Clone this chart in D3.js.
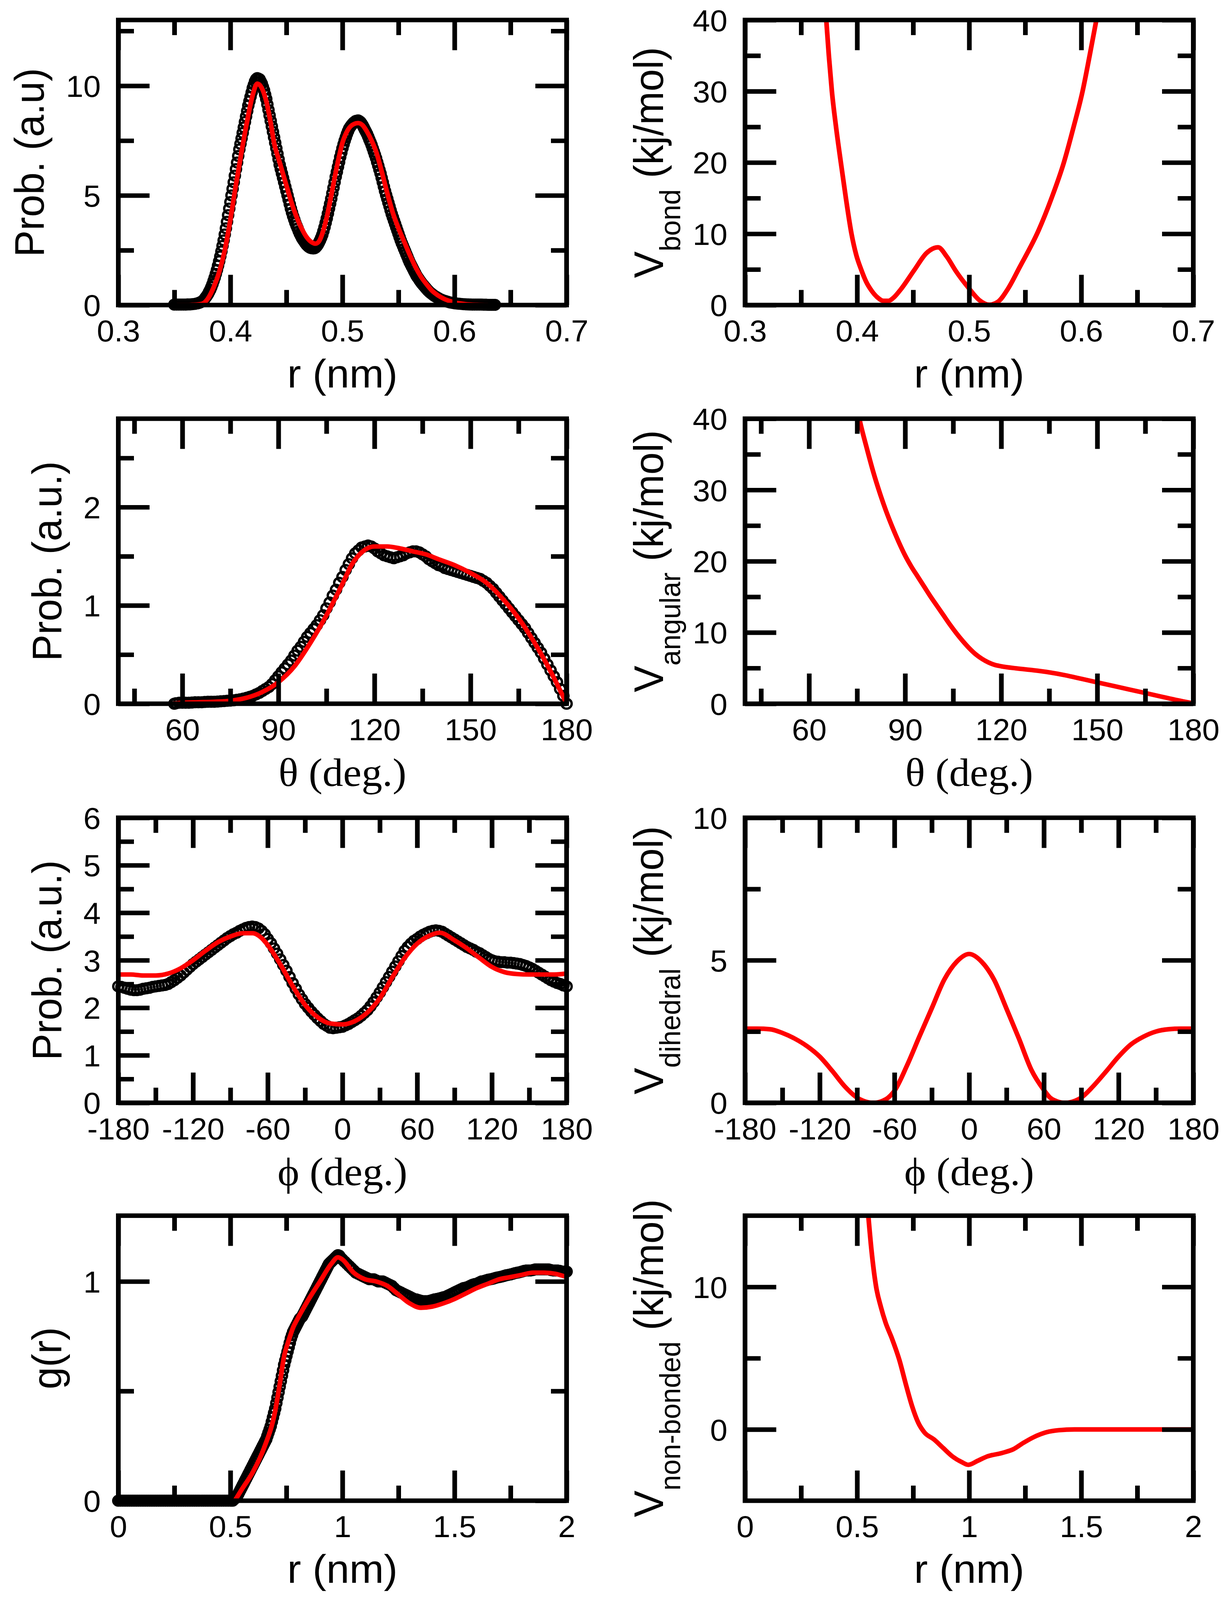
<!DOCTYPE html>
<html lang="en">
<head>
<meta charset="UTF-8">
<title>Bonded and non-bonded distributions and potentials</title>
<script src="https://d3js.org/d3.v7.min.js"></script>
<style>
  html, body { margin: 0; padding: 0; background: #fff; overflow: hidden; }
  svg { display: block; }
</style>
</head>
<body>
<svg id="chart"></svg>
<script>
// ---- data ----

// bond length distribution: simulation (circles) and fit (red line)
const bondProbPoints = [
  [0.350,0.02],[0.352,0.02],[0.354,0.02],[0.356,0.02],[0.358,0.02],[0.360,0.02],[0.362,0.03],[0.364,0.03],[0.366,0.04],[0.368,0.05],
  [0.370,0.07],[0.371,0.08],[0.372,0.10],[0.373,0.12],[0.374,0.15],[0.375,0.18],[0.376,0.22],[0.377,0.28],[0.378,0.35],[0.379,0.42],
  [0.380,0.50],[0.381,0.60],[0.382,0.70],[0.383,0.82],[0.384,0.95],[0.385,1.10],[0.386,1.25],[0.387,1.42],[0.388,1.60],[0.389,1.80],
  [0.390,2.00],[0.391,2.22],[0.392,2.45],[0.393,2.70],[0.394,2.95],[0.395,3.22],[0.396,3.50],[0.397,3.80],[0.398,4.10],[0.399,4.40],
  [0.400,4.70],[0.401,5.00],[0.402,5.30],[0.403,5.60],[0.404,5.90],[0.405,6.20],[0.406,6.50],[0.407,6.80],[0.408,7.10],[0.409,7.35],
  [0.410,7.60],[0.411,7.85],[0.412,8.10],[0.413,8.35],[0.414,8.60],[0.415,8.85],[0.416,9.10],[0.417,9.30],[0.418,9.50],[0.419,9.70],
  [0.420,9.90],[0.421,10.05],[0.422,10.20],[0.423,10.30],[0.424,10.35],[0.425,10.33],[0.426,10.30],[0.427,10.20],[0.428,10.10],[0.429,9.95],
  [0.430,9.80],[0.431,9.60],[0.432,9.40],[0.433,9.15],[0.434,8.90],[0.435,8.65],[0.436,8.40],[0.437,8.15],[0.438,7.90],[0.439,7.65],
  [0.440,7.40],[0.441,7.15],[0.442,6.90],[0.443,6.65],[0.444,6.40],[0.445,6.20],[0.446,6.00],[0.447,5.80],[0.448,5.60],[0.449,5.40],
  [0.450,5.20],[0.451,5.00],[0.452,4.80],[0.453,4.60],[0.454,4.40],[0.455,4.22],[0.456,4.05],[0.457,3.90],[0.458,3.75],[0.459,3.62],
  [0.460,3.50],[0.461,3.37],[0.462,3.25],[0.463,3.15],[0.464,3.05],[0.465,2.97],[0.466,2.90],[0.467,2.82],[0.468,2.75],[0.469,2.70],
  [0.470,2.65],[0.471,2.62],[0.472,2.60],[0.473,2.59],[0.474,2.58],[0.475,2.59],[0.476,2.62],[0.477,2.68],[0.478,2.75],[0.479,2.85],
  [0.480,2.95],[0.481,3.07],[0.482,3.20],[0.483,3.37],[0.484,3.55],[0.485,3.75],[0.486,3.95],[0.487,4.17],[0.488,4.40],[0.489,4.62],
  [0.490,4.85],[0.491,5.10],[0.492,5.35],[0.493,5.60],[0.494,5.85],[0.495,6.07],[0.496,6.30],[0.497,6.52],[0.498,6.75],[0.499,6.95],
  [0.500,7.15],[0.501,7.33],[0.502,7.50],[0.503,7.65],[0.504,7.80],[0.505,7.93],[0.506,8.05],[0.507,8.13],[0.508,8.20],[0.509,8.26],
  [0.510,8.32],[0.511,8.36],[0.512,8.40],[0.513,8.41],[0.514,8.42],[0.515,8.39],[0.516,8.35],[0.517,8.28],[0.518,8.20],[0.519,8.10],
  [0.520,8.00],[0.521,7.90],[0.522,7.80],[0.523,7.68],[0.524,7.55],[0.525,7.43],[0.526,7.30],[0.527,7.15],[0.528,7.00],[0.529,6.85],
  [0.530,6.70],[0.531,6.52],[0.532,6.35],[0.533,6.17],[0.534,6.00],[0.535,5.80],[0.536,5.60],[0.537,5.40],[0.538,5.20],[0.539,5.02],
  [0.540,4.85],[0.541,4.67],[0.542,4.50],[0.543,4.32],[0.544,4.15],[0.545,4.00],[0.546,3.85],[0.547,3.70],[0.548,3.55],[0.549,3.40],
  [0.550,3.25],[0.551,3.10],[0.552,2.95],[0.553,2.82],[0.554,2.70],[0.555,2.57],[0.556,2.45],[0.557,2.32],[0.558,2.20],[0.559,2.07],
  [0.560,1.95],[0.561,1.85],[0.562,1.75],[0.563,1.65],[0.564,1.55],[0.565,1.45],[0.566,1.35],[0.567,1.27],[0.568,1.20],[0.569,1.12],
  [0.570,1.05],[0.571,0.98],[0.572,0.92],[0.573,0.86],[0.574,0.80],[0.575,0.74],[0.576,0.68],[0.577,0.63],[0.578,0.58],[0.579,0.54],
  [0.580,0.50],[0.581,0.46],[0.582,0.42],[0.583,0.39],[0.584,0.36],[0.585,0.33],[0.586,0.30],[0.587,0.27],[0.588,0.25],[0.589,0.23],
  [0.590,0.21],[0.592,0.18],[0.594,0.15],[0.596,0.12],[0.598,0.10],[0.600,0.08],[0.602,0.07],[0.604,0.06],[0.606,0.05],[0.608,0.04],
  [0.610,0.035],[0.612,0.03],[0.614,0.025],[0.616,0.02],[0.618,0.02],[0.620,0.02],[0.622,0.02],[0.624,0.02],[0.626,0.015],[0.628,0.015],
  [0.630,0.01],[0.632,0.01],[0.634,0.01],[0.636,0.01]
];
const bondProbFit = [
  [0.352,0],[0.360,0],[0.366,0.01],[0.370,0.02],[0.375,0.06],[0.380,0.3],[0.385,0.8],[0.390,1.5],
  [0.395,2.5],[0.400,3.9],[0.405,5.5],[0.410,7.0],[0.415,8.4],[0.420,9.6],[0.424,10.1],[0.428,9.9],
  [0.432,9.3],[0.436,8.3],[0.439,7.4],[0.444,6.5],[0.448,5.8],[0.452,5.1],[0.455,4.6],[0.460,3.9],
  [0.464,3.45],[0.468,3.1],[0.473,2.85],[0.476,2.8],[0.479,2.9],[0.482,3.25],[0.486,4.0],[0.490,5.0],
  [0.495,6.3],[0.500,7.4],[0.505,8.0],[0.510,8.25],[0.514,8.3],[0.518,8.2],[0.522,7.9],[0.526,7.5],
  [0.530,7.0],[0.535,6.1],[0.540,5.1],[0.545,4.2],[0.550,3.5],[0.555,2.9],[0.560,2.3],[0.565,1.75],
  [0.570,1.3],[0.575,0.95],[0.580,0.65],[0.585,0.45],[0.590,0.3],[0.600,0.12],[0.610,0.04],[0.620,0.01],
  [0.630,0]
];
// bond potential
const bondPotential = [
  [0.3725,40],[0.3748,35],[0.3775,30],[0.3812,25],[0.3855,20],[0.3900,15],[0.3950,10],[0.3993,7],
  [0.4036,5],[0.408,3.3],[0.413,2.0],[0.418,1.1],[0.4235,0.6],[0.428,0.6],[0.433,1.1],[0.439,2.2],
  [0.451,4.9],[0.462,7.3],[0.4723,8.1],[0.480,6.8],[0.488,4.8],[0.500,2.3],[0.509,0.7],[0.518,0.05],
  [0.526,0.5],[0.5347,2.3],[0.545,5.3],[0.562,10.5],[0.5735,15],[0.5845,20],[0.5932,25],[0.6012,30],
  [0.6075,35],[0.6135,40]
];

// angle distribution
const angleProbPoints = [
  [57.5,0],[58,0.005],[59,0.01],[60,0.01],[61,0.01],[62,0.01],[63,0.012],[64,0.015],[65,0.015],[66,0.015],
  [67,0.018],[68,0.02],[69,0.02],[70,0.02],[71,0.022],[72,0.025],[73,0.027],[74,0.03],[75,0.032],[76,0.035],
  [77,0.04],[78,0.045],[79,0.052],[80,0.06],[81,0.07],[82,0.08],[83,0.095],[84,0.11],[85,0.13],[86,0.15],
  [87,0.17],[88,0.2],[89,0.24],[90,0.28],[91,0.32],[92,0.36],[93,0.4],[94,0.44],[95,0.49],[96,0.54],
  [97,0.58],[98,0.63],[99,0.68],[100,0.72],[101,0.76],[102,0.8],[103,0.85],[104,0.9],[105,0.97],[106,1.03],
  [107,1.1],[108,1.16],[109,1.23],[110,1.29],[111,1.36],[112,1.42],[113,1.48],[114,1.53],[115,1.56],[116,1.59],
  [117,1.6],[118,1.61],[119,1.6],[120,1.58],[121,1.55],[122,1.53],[123,1.51],[124,1.5],[125,1.49],[126,1.48],
  [127,1.49],[128,1.5],[129,1.51],[130,1.53],[131,1.54],[132,1.55],[133,1.55],[134,1.54],[135,1.52],[136,1.5],
  [137,1.47],[138,1.45],[139,1.43],[140,1.41],[141,1.4],[142,1.38],[143,1.37],[144,1.36],[145,1.35],[146,1.34],
  [147,1.33],[148,1.32],[149,1.31],[150,1.3],[151,1.29],[152,1.28],[153,1.27],[154,1.25],[155,1.23],[156,1.2],
  [157,1.17],[158,1.13],[159,1.09],[160,1.05],[161,1.01],[162,0.97],[163,0.93],[164,0.89],[165,0.85],[166,0.81],
  [167,0.77],[168,0.72],[169,0.67],[170,0.62],[171,0.57],[172,0.52],[173,0.46],[174,0.4],[175,0.34],[176,0.28],
  [177,0.22],[178,0.15],[179,0.08],[180,0]
];
const angleProbFit = [
  [57,0],[60,0.01],[65,0.015],[70,0.02],[75,0.03],[80,0.06],[85,0.12],[90,0.22],[95,0.38],[100,0.62],
  [105,0.9],[110,1.22],[113,1.42],[116,1.54],[120,1.6],[124,1.6],[128,1.58],[132,1.55],[136,1.52],[140,1.47],
  [145,1.41],[150,1.33],[155,1.23],[160,1.07],[165,0.87],[170,0.62],[175,0.33],[180,0]
];
// angle potential
const anglePotential = [
  [75.7,40],[76,39.4],[78,35.9],[80,32.6],[82,29.7],[84,27.1],[86,24.8],[88,22.7],[90,20.8],[92,19.2],
  [94,17.8],[96,16.4],[98,15.0],[100,13.7],[102,12.4],[104,11.1],[106,9.9],[108,8.8],[110,7.8],[112,6.95],
  [114,6.3],[116,5.8],[118,5.45],[120,5.25],[125,4.95],[130,4.7],[135,4.4],[140,4.0],[145,3.5],[150,3.0],
  [155,2.5],[160,2.0],[165,1.5],[170,1.0],[175,0.5],[180,0.05]
];

// dihedral distribution
const dihedralProbPoints = [
  [-180,2.45],[-177.5,2.44],[-175,2.42],[-172.5,2.4],[-170,2.38],[-167.5,2.37],[-165,2.37],[-162.5,2.38],[-160,2.4],
  [-157.5,2.41],[-155,2.42],[-152.5,2.44],[-150,2.45],[-147.5,2.46],[-145,2.47],[-142.5,2.48],[-140,2.5],
  [-137.5,2.54],[-135,2.58],[-132.5,2.63],[-130,2.68],[-127.5,2.74],[-125,2.8],[-122.5,2.86],[-120,2.92],
  [-117.5,2.97],[-115,3.02],[-112.5,3.07],[-110,3.12],[-107.5,3.17],[-105,3.22],[-102.5,3.27],[-100,3.32],
  [-97.5,3.37],[-95,3.42],[-92.5,3.47],[-90,3.51],[-87.5,3.55],[-85,3.58],[-82.5,3.62],[-80,3.65],
  [-77.5,3.68],[-75,3.7],[-72.5,3.71],[-70,3.7],[-67.5,3.67],[-65,3.62],[-62.5,3.55],[-60,3.45],
  [-57.5,3.36],[-55,3.25],[-52.5,3.14],[-50,3.02],[-47.5,2.9],[-45,2.78],[-42.5,2.65],[-40,2.52],
  [-37.5,2.4],[-35,2.28],[-32.5,2.18],[-30,2.08],[-27.5,2.0],[-25,1.92],[-22.5,1.85],[-20,1.78],
  [-17.5,1.72],[-15,1.66],[-12.5,1.62],[-10,1.58],[-7.5,1.57],[-5,1.58],[-2.5,1.59],[0,1.6],
  [2.5,1.63],[5,1.66],[7.5,1.7],[10,1.74],[12.5,1.78],[15,1.83],[17.5,1.89],[20,1.95],
  [22.5,2.03],[25,2.12],[27.5,2.22],[30,2.32],[32.5,2.43],[35,2.54],[37.5,2.65],[40,2.76],
  [42.5,2.87],[45,2.98],[47.5,3.09],[50,3.2],[52.5,3.28],[55,3.35],[57.5,3.41],[60,3.45],
  [62.5,3.5],[65,3.54],[67.5,3.57],[70,3.6],[72.5,3.62],[75,3.63],[77.5,3.62],[80,3.6],
  [82.5,3.56],[85,3.52],[87.5,3.48],[90,3.44],[92.5,3.4],[95,3.36],[97.5,3.32],[100,3.28],
  [102.5,3.25],[105,3.22],[107.5,3.18],[110,3.15],[112.5,3.11],[115,3.07],[117.5,3.03],[120,3.0],
  [122.5,2.98],[125,2.97],[127.5,2.96],[130,2.96],[132.5,2.95],[135,2.95],[137.5,2.94],[140,2.93],
  [142.5,2.92],[145,2.9],[147.5,2.88],[150,2.85],[152.5,2.82],[155,2.78],[157.5,2.74],[160,2.7],
  [162.5,2.66],[165,2.62],[167.5,2.58],[170,2.55],[172.5,2.52],[175,2.5],[177.5,2.47],[180,2.45]
];
const dihedralProbFit = [
  [-180,2.7],[-170,2.7],[-160,2.68],[-150,2.68],[-140,2.72],[-130,2.83],[-120,3.0],[-110,3.2],[-100,3.38],
  [-90,3.5],[-80,3.57],[-72,3.57],[-65,3.47],[-60,3.32],[-50,2.92],[-40,2.46],[-30,2.06],[-20,1.8],
  [-10,1.67],[0,1.65],[10,1.72],[20,1.9],[30,2.2],[40,2.64],[50,3.05],[60,3.35],[70,3.52],[78,3.58],
  [90,3.42],[100,3.25],[110,3.05],[120,2.86],[130,2.75],[140,2.71],[150,2.7],[160,2.7],[170,2.7],[180,2.72]
];
// dihedral potential
const dihedralPotential = [
  [-180,2.6],[-170,2.6],[-160,2.58],[-150,2.45],[-140,2.25],[-130,1.98],[-120,1.62],[-110,1.12],[-100,0.58],
  [-90,0.18],[-85,0.07],[-77,0],[-70,0.06],[-65,0.18],[-60,0.42],[-50,1.3],[-40,2.32],[-30,3.32],[-20,4.32],
  [-10,4.95],[0,5.22],[10,4.95],[20,4.32],[30,3.3],[40,2.25],[50,1.15],[60,0.45],[65,0.18],[70,0.06],
  [77,0],[85,0.07],[90,0.18],[100,0.6],[110,1.1],[120,1.62],[130,2.05],[140,2.32],[150,2.5],[160,2.58],
  [170,2.6],[180,2.6]
];

// radial distribution function
const rdfPoints = [
  [0,0],[0.01,0],[0.02,0],[0.03,0],[0.04,0],[0.05,0],[0.06,0],[0.07,0],[0.08,0],[0.09,0],
  [0.1,0],[0.11,0],[0.12,0],[0.13,0],[0.14,0],[0.15,0],[0.16,0],[0.17,0],[0.18,0],[0.19,0],
  [0.2,0],[0.21,0],[0.22,0],[0.23,0],[0.24,0],[0.25,0],[0.26,0],[0.27,0],[0.28,0],[0.29,0],
  [0.3,0],[0.31,0],[0.32,0],[0.33,0],[0.34,0],[0.35,0],[0.36,0],[0.37,0],[0.38,0],[0.39,0],
  [0.4,0],[0.41,0],[0.42,0],[0.43,0],[0.44,0],[0.45,0],[0.46,0],[0.47,0],[0.48,0],[0.49,0],
  [0.500,0],[0.505,0],[0.510,0],[0.515,0.005],[0.520,0.01],[0.525,0.015],[0.530,0.02],[0.535,0.03],[0.540,0.04],[0.545,0.05],
  [0.550,0.06],[0.555,0.07],[0.560,0.08],[0.565,0.09],[0.570,0.1],[0.575,0.11],[0.580,0.12],[0.585,0.13],[0.590,0.14],[0.595,0.15],
  [0.600,0.16],[0.605,0.17],[0.610,0.18],[0.615,0.19],[0.620,0.2],[0.625,0.21],[0.630,0.22],[0.635,0.23],[0.640,0.24],[0.645,0.25],
  [0.650,0.26],[0.655,0.27],[0.660,0.28],[0.665,0.295],[0.670,0.31],[0.675,0.325],[0.680,0.34],[0.685,0.36],[0.690,0.38],[0.695,0.4],
  [0.700,0.42],[0.705,0.445],[0.710,0.47],[0.715,0.495],[0.720,0.52],[0.725,0.545],[0.730,0.57],[0.735,0.595],[0.740,0.62],[0.745,0.64],
  [0.750,0.66],[0.755,0.68],[0.760,0.7],[0.765,0.72],[0.770,0.74],[0.775,0.755],[0.780,0.77],[0.785,0.78],[0.790,0.79],[0.795,0.8],
  [0.800,0.81],[0.805,0.82],[0.810,0.83],[0.815,0.835],[0.820,0.84],[0.825,0.85],[0.830,0.86],[0.835,0.87],[0.840,0.88],[0.845,0.89],
  [0.850,0.9],[0.855,0.91],[0.860,0.92],[0.865,0.93],[0.870,0.94],[0.875,0.95],[0.880,0.96],[0.885,0.97],[0.890,0.98],[0.895,0.99],
  [0.900,1.0],[0.905,1.01],[0.910,1.02],[0.915,1.03],[0.920,1.04],[0.925,1.05],[0.930,1.06],[0.935,1.07],[0.940,1.08],[0.945,1.085],
  [0.950,1.09],[0.955,1.095],[0.960,1.1],[0.965,1.105],[0.970,1.11],[0.975,1.115],[0.980,1.12],[0.985,1.118],[0.990,1.11],[0.995,1.105],
  [1.00,1.1],[1.01,1.09],[1.02,1.08],[1.03,1.07],[1.04,1.06],[1.05,1.05],[1.06,1.04],[1.07,1.035],[1.08,1.03],[1.09,1.025],
  [1.10,1.02],[1.11,1.015],[1.12,1.01],[1.13,1.01],[1.14,1.01],[1.15,1.005],[1.16,1.0],[1.17,1.0],[1.18,1.0],[1.19,0.995],
  [1.20,0.99],[1.21,0.985],[1.22,0.98],[1.23,0.97],[1.24,0.96],[1.25,0.955],[1.26,0.95],[1.27,0.945],[1.28,0.94],[1.29,0.935],
  [1.30,0.93],[1.31,0.925],[1.32,0.92],[1.33,0.918],[1.34,0.915],[1.35,0.912],[1.36,0.91],[1.37,0.91],[1.38,0.91],[1.39,0.912],
  [1.40,0.915],[1.41,0.918],[1.42,0.92],[1.43,0.922],[1.44,0.925],[1.45,0.928],[1.46,0.93],[1.47,0.935],[1.48,0.94],[1.49,0.945],
  [1.50,0.95],[1.51,0.955],[1.52,0.96],[1.53,0.965],[1.54,0.97],[1.55,0.972],[1.56,0.975],[1.57,0.98],[1.58,0.985],[1.59,0.988],
  [1.60,0.99],[1.61,0.995],[1.62,1.0],[1.63,1.002],[1.64,1.005],[1.65,1.008],[1.66,1.01],[1.67,1.012],[1.68,1.015],[1.69,1.018],
  [1.70,1.02],[1.71,1.022],[1.72,1.025],[1.73,1.028],[1.74,1.03],[1.75,1.032],[1.76,1.035],[1.77,1.038],[1.78,1.04],[1.79,1.042],
  [1.80,1.045],[1.81,1.048],[1.82,1.05],[1.83,1.05],[1.84,1.05],[1.85,1.052],[1.86,1.055],[1.87,1.055],[1.88,1.055],[1.89,1.055],
  [1.90,1.055],[1.91,1.055],[1.92,1.055],[1.93,1.052],[1.94,1.05],[1.95,1.05],[1.96,1.05],[1.97,1.048],[1.98,1.045],[1.99,1.045],
  [2.00,1.045]
];
const rdfFit = [
  [0.52,0],[0.55,0.05],[0.6,0.13],[0.65,0.24],[0.7,0.41],[0.72,0.53],[0.74,0.66],[0.76,0.73],[0.78,0.79],
  [0.8,0.83],[0.85,0.92],[0.9,1.0],[0.95,1.08],[0.98,1.11],[1.0,1.1],[1.05,1.04],[1.1,1.01],[1.15,1.0],
  [1.2,0.98],[1.25,0.94],[1.3,0.9],[1.35,0.88],[1.4,0.885],[1.45,0.9],[1.5,0.92],[1.55,0.945],[1.6,0.97],
  [1.65,0.99],[1.7,1.01],[1.75,1.02],[1.8,1.03],[1.85,1.04],[1.9,1.04],[1.95,1.035],[2.0,1.02]
];
// non-bonded potential
const nonBondedPotential = [
  [0.55,15],[0.564,12.6],[0.585,10],[0.606,8.6],[0.627,7.5],[0.655,6.4],[0.689,4.85],[0.717,3.2],
  [0.745,1.65],[0.773,0.47],[0.8,-0.2],[0.843,-0.7],[0.884,-1.3],[0.926,-1.9],[0.968,-2.3],[0.996,-2.48],
  [1.038,-2.2],[1.08,-1.9],[1.149,-1.64],[1.198,-1.38],[1.24,-0.96],[1.288,-0.54],[1.344,-0.2],[1.4,-0.05],
  [1.47,0],[1.6,0],[1.8,0],[2.0,0]
];

// ---- tick values ----
const bondTicks = [0.3, 0.4, 0.5, 0.6, 0.7];
const bondMinorTicks = [0.35, 0.45, 0.55, 0.65];
const angleTicks = [60, 90, 120, 150, 180];
const angleMinorTicks = [45, 75, 105, 135, 165];
const dihedralTicks = [-180, -120, -60, 0, 60, 120, 180];
const dihedralMinorTicks = [-150, -90, -30, 30, 90, 150];
const rdfTicks = [0, 0.5, 1, 1.5, 2];
const rdfMinorTicks = [0.25, 0.75, 1.25, 1.75];

const probBondTicks = [0, 5, 10], probBondMinor = [2.5, 7.5, 12.5];
const potTicks40 = [0, 10, 20, 30, 40], potMinor40 = [5, 15, 25, 35];
const probAngleTicks = [0, 1, 2], probAngleMinor = [0.5, 1.5, 2.5];
const probDihTicks = [0, 1, 2, 3, 4, 5, 6], probDihMinor = [0.5, 1.5, 2.5, 3.5, 4.5, 5.5];
const potDihTicks = [0, 5, 10], potDihMinor = [2.5, 7.5];
const rdfYTicks = [0, 1], rdfYMinor = [0.5];
const nbTicks = [0, 10], nbMinor = [5];

// ---- layout (reference pixel space 3150 x 4238) ----
const SANS = '"Liberation Sans", Arial, Helvetica, sans-serif';
const SERIF = '"Liberation Serif", "Times New Roman", Times, serif';
const colLeft = [303, 1908];
const rowTop = [53, 1109, 2166, 3220];
const W = 1148, H = 755;

const panels = [
  { col: 0, row: 0, xDomain: [0.3, 0.7], yDomain: [0, 13], xTicks: bondTicks, xMinor: bondMinorTicks,
    yTicks: probBondTicks, yMinor: probBondMinor, points: bondProbPoints, line: bondProbFit,
    xTitle: "r (nm)", xSerif: false, yTitle: [["Prob. (a.u)"]], yTitleOff: 191 },
  { col: 1, row: 0, xDomain: [0.3, 0.7], yDomain: [0, 40], xTicks: bondTicks, xMinor: bondMinorTicks,
    yTicks: potTicks40, yMinor: potMinor40, line: bondPotential,
    xTitle: "r (nm)", xSerif: false, yTitle: [["V"], ["bond", true], [" (kj/mol)"]], yTitleOff: 210 },
  { col: 0, row: 1, xDomain: [40, 180], yDomain: [0, 2.9], xTicks: angleTicks, xMinor: angleMinorTicks,
    yTicks: probAngleTicks, yMinor: probAngleMinor, points: angleProbPoints, line: angleProbFit,
    xTitle: "\u03B8 (deg.)", xSerif: true, yTitle: [["Prob. (a.u.)"]], yTitleOff: 146 },
  { col: 1, row: 1, xDomain: [40, 180], yDomain: [0, 40], xTicks: angleTicks, xMinor: angleMinorTicks,
    yTicks: potTicks40, yMinor: potMinor40, line: anglePotential,
    xTitle: "\u03B8 (deg.)", xSerif: true, yTitle: [["V"], ["angular", true], [" (kj/mol)"]], yTitleOff: 210 },
  { col: 0, row: 2, xDomain: [-180, 180], yDomain: [0, 6], xTicks: dihedralTicks, xMinor: dihedralMinorTicks,
    yTicks: probDihTicks, yMinor: probDihMinor, points: dihedralProbPoints, line: dihedralProbFit,
    xTitle: "\u03D5 (deg.)", xSerif: true, yTitle: [["Prob. (a.u.)"]], yTitleOff: 146 },
  { col: 1, row: 2, xDomain: [-180, 180], yDomain: [0, 10], xTicks: dihedralTicks, xMinor: dihedralMinorTicks,
    yTicks: potDihTicks, yMinor: potDihMinor, line: dihedralPotential,
    xTitle: "\u03D5 (deg.)", xSerif: true, yTitle: [["V"], ["dihedral", true], [" (kj/mol)"]], yTitleOff: 210 },
  { col: 0, row: 3, xDomain: [0, 2], yDomain: [0, 1.3], xTicks: rdfTicks, xMinor: rdfMinorTicks,
    yTicks: rdfYTicks, yMinor: rdfYMinor, points: rdfPoints, line: rdfFit,
    xTitle: "r (nm)", xSerif: false, yTitle: [["g(r)"]], yTitleOff: 146 },
  { col: 1, row: 3, xDomain: [0, 2], yDomain: [-5, 15], xTicks: rdfTicks, xMinor: rdfMinorTicks,
    yTicks: nbTicks, yMinor: nbMinor, line: nonBondedPotential,
    xTitle: "r (nm)", xSerif: false, yTitle: [["V"], ["non-bonded", true], [" (kj/mol)"]], yTitleOff: 210 }
];

// fit the whole figure into whatever viewport we get
const vw = window.innerWidth || 3150, vh = window.innerHeight || 4238;
const svg = d3.select("#chart")
  .attr("width", vw)
  .attr("height", vh)
  .attr("viewBox", "0 0 3150 4238")
  .attr("preserveAspectRatio", "none");
svg.append("rect").attr("width", 3150).attr("height", 4238).attr("fill", "#fff");

const TICK_W = 12, MAJOR = 80, MINOR = 40;
const blank = () => "";

function styleAxis(sel) {
  sel.select(".domain").remove();
  sel.attr("font-family", SANS).attr("font-size", 80);
  sel.selectAll(".tick line").attr("stroke", "#000").attr("stroke-width", TICK_W);
  sel.selectAll(".tick text").attr("fill", "#000");
}

panels.forEach((p, i) => {
  const left = colLeft[p.col], top = rowTop[p.row];
  const g = svg.append("g").attr("transform", `translate(${left},${top})`);
  const x = d3.scaleLinear().domain(p.xDomain).range([0, W]);
  const y = d3.scaleLinear().domain(p.yDomain).range([H, 0]);

  g.append("clipPath").attr("id", "clip" + i)
    .append("rect").attr("width", W).attr("height", H);

  // simulation data: open circles
  if (p.points) {
    g.append("g").selectAll("circle")
      .data(p.points)
      .join("circle")
      .attr("cx", d => x(d[0]))
      .attr("cy", d => y(d[1]))
      .attr("r", 13)
      .attr("fill", "none")
      .attr("stroke", "#000")
      .attr("stroke-width", 6);
  }

  // fit / potential: red line
  const line = d3.line().x(d => x(d[0])).y(d => y(d[1])).curve(d3.curveMonotoneX);
  g.append("path")
    .datum(p.line)
    .attr("clip-path", `url(#clip${i})`)
    .attr("d", line)
    .attr("fill", "none")
    .attr("stroke", "#ff0000")
    .attr("stroke-width", 12)
    .attr("stroke-linejoin", "round");

  // ticks on all four sides, pointing inward
  g.append("g").attr("transform", `translate(0,${H})`)
    .call(d3.axisBottom(x).tickValues(p.xTicks).tickFormat(d => String(d)).tickSize(-MAJOR).tickPadding(40))
    .call(styleAxis);
  g.append("g").attr("transform", `translate(0,${H})`)
    .call(d3.axisBottom(x).tickValues(p.xMinor).tickFormat(blank).tickSize(-MINOR))
    .call(styleAxis);
  g.append("g")
    .call(d3.axisTop(x).tickValues(p.xTicks).tickFormat(blank).tickSize(-MAJOR))
    .call(styleAxis);
  g.append("g")
    .call(d3.axisTop(x).tickValues(p.xMinor).tickFormat(blank).tickSize(-MINOR))
    .call(styleAxis);
  g.append("g")
    .call(d3.axisLeft(y).tickValues(p.yTicks).tickFormat(d => String(d)).tickSize(-MAJOR).tickPadding(45))
    .call(styleAxis)
    .selectAll(".tick text").attr("dy", "0.36em");
  g.append("g")
    .call(d3.axisLeft(y).tickValues(p.yMinor).tickFormat(blank).tickSize(-MINOR))
    .call(styleAxis);
  g.append("g").attr("transform", `translate(${W},0)`)
    .call(d3.axisRight(y).tickValues(p.yTicks).tickFormat(blank).tickSize(-MAJOR))
    .call(styleAxis);
  g.append("g").attr("transform", `translate(${W},0)`)
    .call(d3.axisRight(y).tickValues(p.yMinor).tickFormat(blank).tickSize(-MINOR))
    .call(styleAxis);

  // frame
  g.append("rect")
    .attr("width", W).attr("height", H)
    .attr("fill", "none").attr("stroke", "#000").attr("stroke-width", TICK_W);

  // x title
  g.append("text")
    .attr("x", W / 2).attr("y", H + 218)
    .attr("text-anchor", "middle")
    .attr("font-family", p.xSerif ? SERIF : SANS)
    .attr("font-size", 106)
    .text(p.xTitle);

  // y title (rotated, with optional subscript)
  const yt = g.append("text")
    .attr("transform", `translate(${-p.yTitleOff},${H / 2}) rotate(-90)`)
    .attr("text-anchor", "middle")
    .attr("font-family", SANS)
    .attr("font-size", 106);
  let shifted = false;
  p.yTitle.forEach(([txt, sub]) => {
    const ts = yt.append("tspan").text(txt);
    if (sub) { ts.attr("font-size", 74).attr("dy", 44); shifted = true; }
    else if (shifted) { ts.attr("dy", -44); shifted = false; }
  });
});
</script>
</body>
</html>
